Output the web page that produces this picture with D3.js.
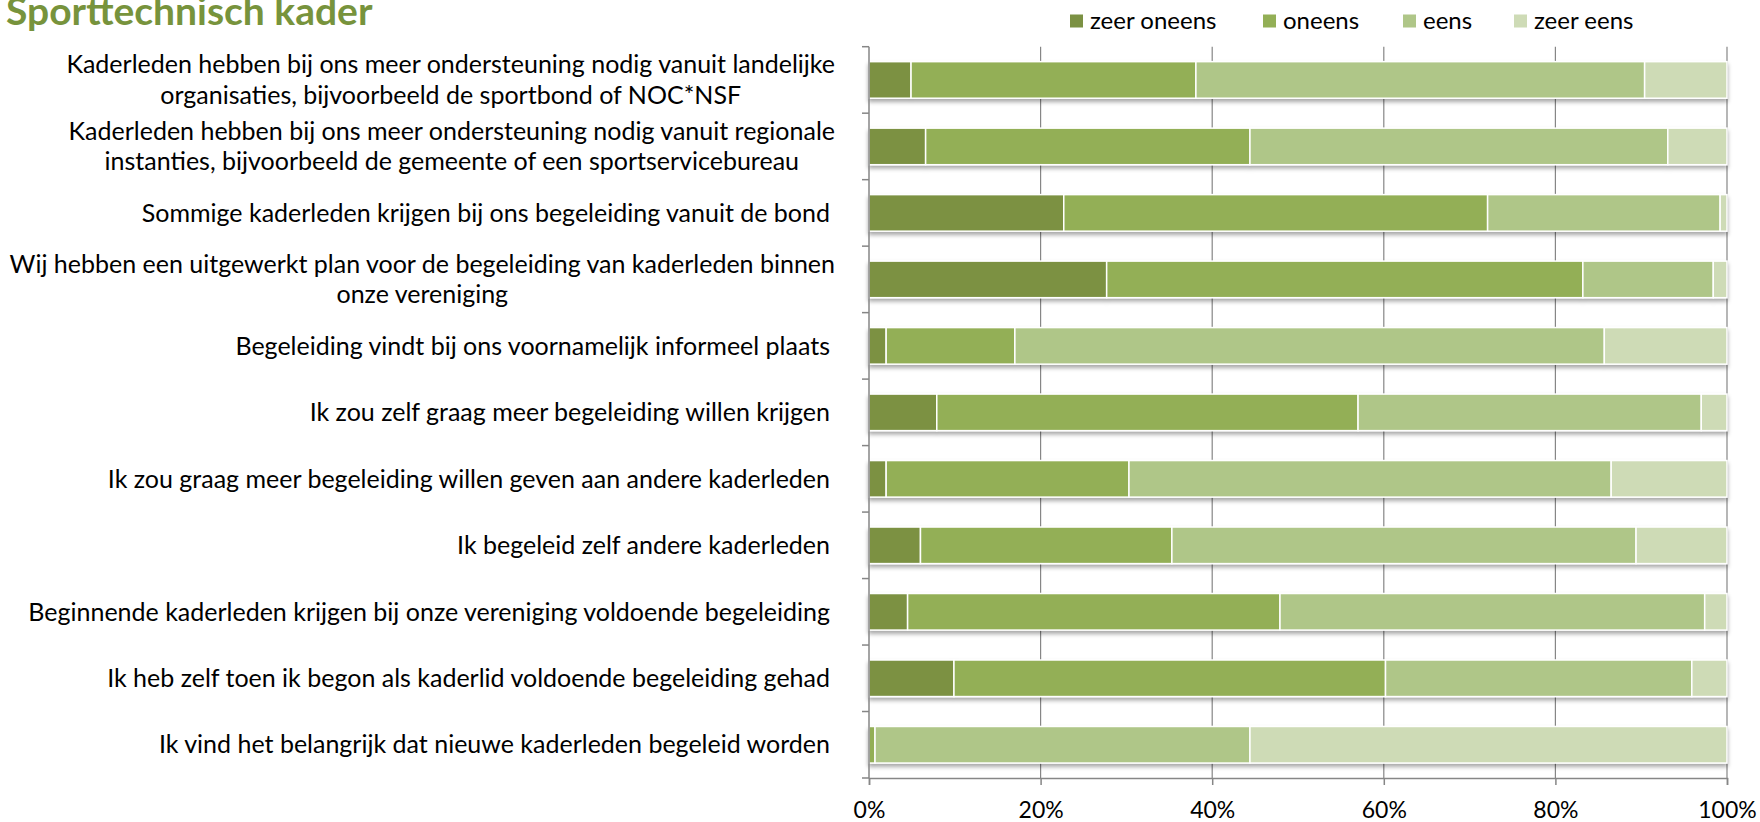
<!DOCTYPE html>
<html>
<head>
<meta charset="utf-8">
<script src="https://cdn.jsdelivr.net/npm/d3@7"></script>
<style>
    body { margin: 0; background: #fff; }
    text { font-family: Lato, "Open Sans", sans-serif; fill: #000; }
</style>
</head>
<body>
<div id="chart"></div>
<script>

// categories, top to bottom
const categories = [
    "Kaderleden hebben bij ons meer ondersteuning nodig vanuit landelijke\norganisaties, bijvoorbeeld de sportbond of NOC*NSF",
    "Kaderleden hebben bij ons meer ondersteuning nodig vanuit regionale\ninstanties, bijvoorbeeld de gemeente of een sportservicebureau",
    "Sommige kaderleden krijgen bij ons begeleiding vanuit de bond",
    "Wij hebben een uitgewerkt plan voor de begeleiding van kaderleden binnen\nonze vereniging",
    "Begeleiding vindt bij ons voornamelijk informeel plaats",
    "Ik zou zelf graag meer begeleiding willen krijgen",
    "Ik zou graag meer begeleiding willen geven aan andere kaderleden",
    "Ik begeleid zelf andere kaderleden",
    "Beginnende kaderleden krijgen bij onze vereniging voldoende begeleiding",
    "Ik heb zelf toen ik begon als kaderlid voldoende begeleiding gehad",
    "Ik vind het belangrijk dat nieuwe kaderleden begeleid worden"
];

const seriesNames = ["zeer oneens", "oneens", "eens", "zeer eens"];

// percentages per category
const zeerOneens = [4.9, 6.6, 22.7, 27.7, 2.0, 7.9, 2.0, 6.0, 4.5, 9.9, 0];
const oneens     = [33.2, 37.8, 49.4, 55.5, 15.0, 49.1, 28.3, 29.3, 43.4, 50.3, 0.7];
const eens       = [52.3, 48.7, 27.1, 15.2, 68.7, 40.0, 56.2, 54.1, 49.5, 35.7, 43.7];
const zeerEens   = [9.6, 6.9, 0.8, 1.6, 14.3, 3.0, 13.5, 10.6, 2.6, 4.1, 55.6];

const xTicks = [0, 0.2, 0.4, 0.6, 0.8, 1];

const colors = ["#7b9143", "#93af56", "#afc688", "#cedbb6"];

let rows = categories.map((c, i) => ({
    cat: c,
    "zeer oneens": zeerOneens[i],
    "oneens": oneens[i],
    "eens": eens[i],
    "zeer eens": zeerEens[i]
}));

let margin = {top: 46.7, right: 33, bottom: 44, left: 869};
let fullW = 1760, fullH = 822;
let width = fullW - margin.left - margin.right;
let height = fullH - margin.top - margin.bottom;

let root = d3.select("#chart").append("svg")
    .attr("width", fullW)
    .attr("height", fullH);

// bar shadow
let filter = root.append("defs").append("filter")
    .attr("id", "shadow")
    .attr("x", "-5%").attr("y", "-20%")
    .attr("width", "110%").attr("height", "160%");
filter.append("feDropShadow")
    .attr("dx", 0).attr("dy", 3)
    .attr("stdDeviation", 2.2)
    .attr("flood-color", "#000")
    .attr("flood-opacity", 0.35);

// title
root.append("text")
    .attr("x", 6)
    .attr("y", 25)
    .style("font-weight", "bold")
    .style("font-size", "39px")
    .style("fill", "#77933c")
    .text("Sporttechnisch kader");

let svg = root.append("g")
    .attr("transform", "translate(" + margin.left + "," + margin.top + ")");

// scales
let x = d3.scaleLinear().domain([0, 1]).range([0, width]);
let y = d3.scaleBand().domain(d3.range(categories.length)).range([0, height]).paddingInner(0.45).paddingOuter(0.225);

let stacked = d3.stack().keys(seriesNames).offset(d3.stackOffsetExpand)(rows);
let color = d3.scaleOrdinal().domain(seriesNames).range(colors);

// gridlines
svg.append("g")
    .selectAll("line")
    .data(xTicks.slice(1))
    .enter().append("line")
    .attr("x1", d => x(d)).attr("x2", d => x(d))
    .attr("y1", 0).attr("y2", height)
    .attr("stroke", "#868686")
    .attr("stroke-width", 1.2);

// bars
let barRows = svg.append("g")
    .selectAll("g")
    .data(categories.map((c, i) => i))
    .enter().append("g")
    .attr("filter", "url(#shadow)");

barRows.selectAll("rect")
    .data(i => stacked.map(s => ({key: s.key, v: s[i], i: i})))
    .enter().append("rect")
    .attr("x", d => x(d.v[0]))
    .attr("y", d => y(d.i))
    .attr("width", d => Math.max(0, x(d.v[1]) - x(d.v[0])))
    .attr("height", y.bandwidth())
    .attr("fill", d => color(d.key))
    .attr("stroke", "#fff")
    .attr("stroke-width", 1.5);

// left axis line with ticks at band boundaries
let step = y.step();
let bounds = d3.range(categories.length + 1).map(i => i * step);
svg.append("line")
    .attr("x1", 0).attr("x2", 0)
    .attr("y1", 0).attr("y2", height)
    .attr("stroke", "#868686").attr("stroke-width", 1.5);
svg.append("g")
    .selectAll("line")
    .data(bounds)
    .enter().append("line")
    .attr("x1", -7).attr("x2", 0)
    .attr("y1", d => d).attr("y2", d => d)
    .attr("stroke", "#868686").attr("stroke-width", 1.5);

// bottom axis
let xAxis = d3.axisBottom(x)
    .tickValues(xTicks)
    .tickFormat(d3.format(".0%"))
    .tickSize(7);
let xAxisGroup = svg.append("g")
    .attr("class", "axis x-axis")
    .attr("transform", "translate(0," + height + ")")
    .call(xAxis);
xAxisGroup.select(".domain").attr("stroke", "#868686").attr("stroke-width", 1.5);
xAxisGroup.selectAll(".tick line").attr("stroke", "#868686").attr("stroke-width", 1.5);
xAxisGroup.selectAll("text")
    .attr("y", 32)
    .attr("dy", "0.35em")
    .style("font-family", "Lato, sans-serif")
    .style("font-size", "23px")
    .style("fill", "#000");

// category labels
let labelRight = -34;
categories.forEach((c, i) => {
    let lines = c.split("\n");
    let cy = y(i) + y.bandwidth() / 2;
    let lh = 30.5;
    let t = svg.append("text")
        .style("font-size", "25px")
        .attr("text-anchor", "middle");
    lines.forEach((ln, k) => {
        t.append("tspan")
            .attr("x", 0)
            .attr("y", cy + (k - (lines.length - 1) / 2) * lh)
            .attr("dy", "0.35em")
            .text(ln);
    });
    let w = t.node().getBBox().width;
    let right = lines.length > 1 ? labelRight : labelRight - 5;
    t.selectAll("tspan").attr("x", right - w / 2);
});

// legend
let legendX = [1070, 1263, 1403, 1514];
let legend = root.append("g")
    .selectAll("g")
    .data(seriesNames)
    .enter().append("g")
    .attr("transform", (d, i) => "translate(" + legendX[i] + ",21)");
legend.append("rect")
    .attr("x", 0).attr("y", -6.5)
    .attr("width", 13).attr("height", 13)
    .attr("fill", d => color(d));
legend.append("text")
    .attr("x", 20)
    .attr("dy", "0.35em")
    .style("font-size", "24px")
    .text(d => d);

</script>
</body>
</html>
